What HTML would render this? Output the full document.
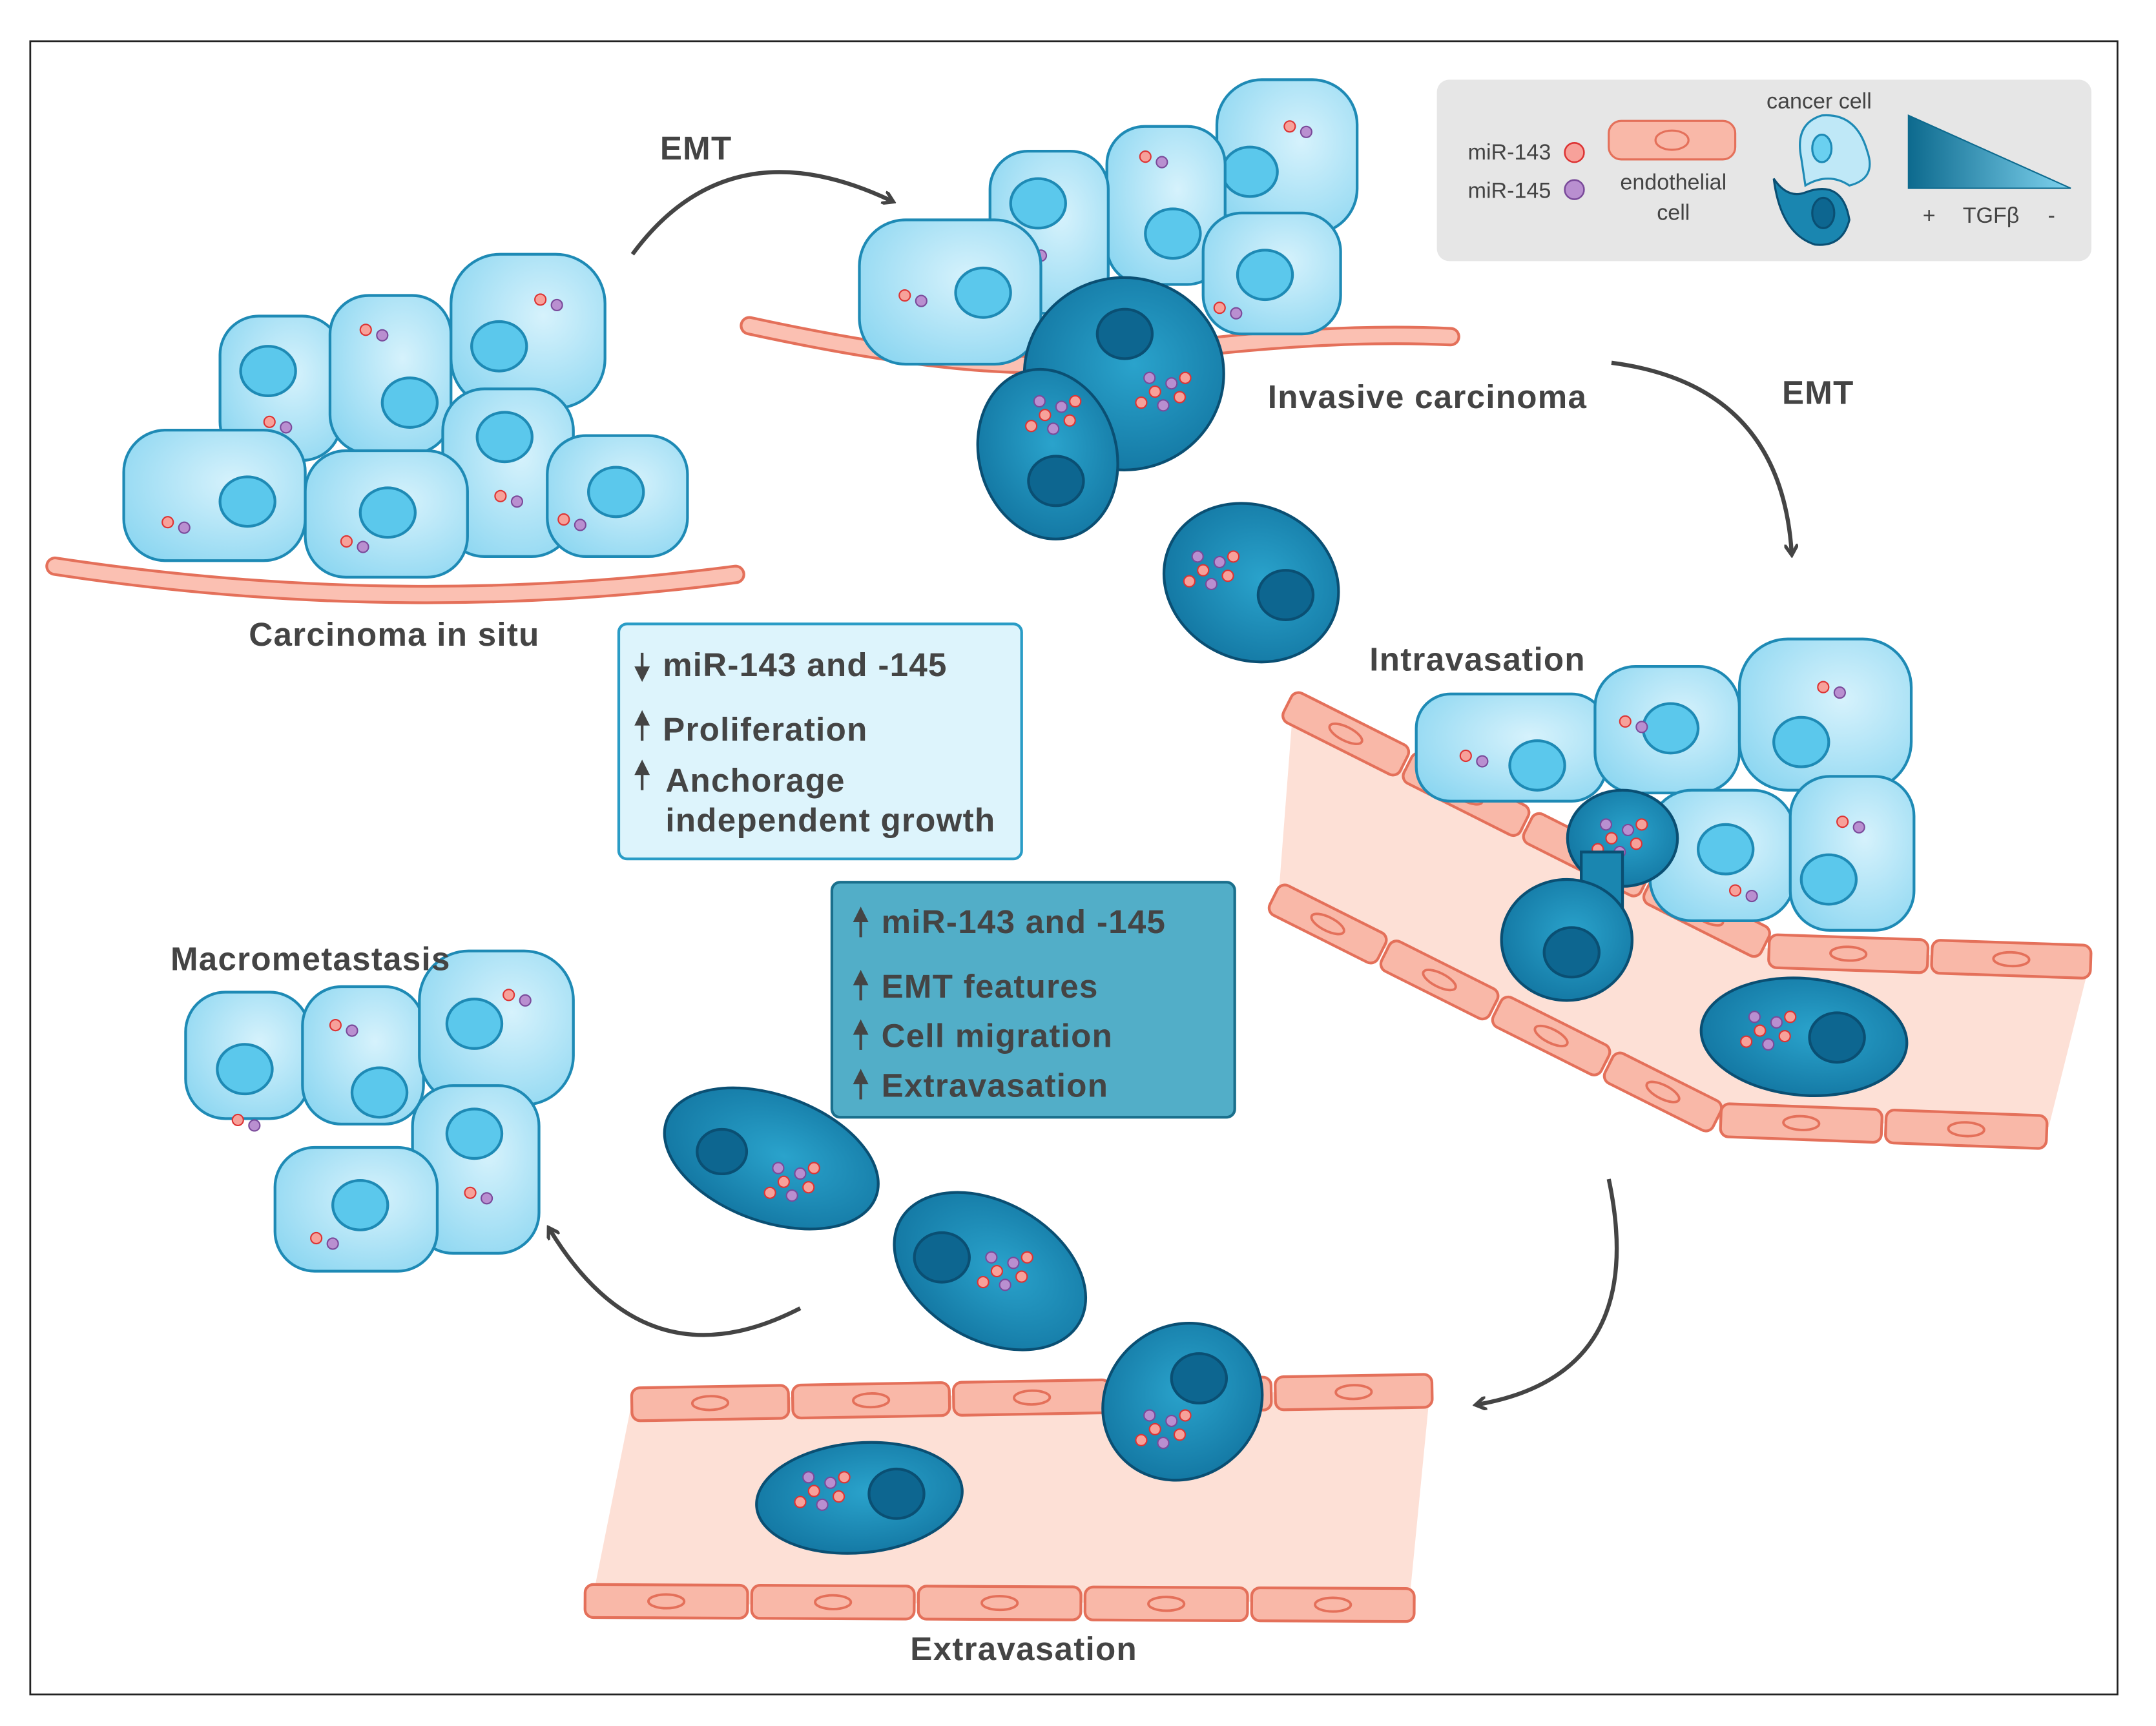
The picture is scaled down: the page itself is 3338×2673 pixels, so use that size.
<!DOCTYPE html>
<html><head><meta charset="utf-8"><style>
html,body{margin:0;padding:0;background:#fff}
svg{display:block}
text{font-family:"Liberation Sans",sans-serif}
</style></head><body>
<svg id="s" width="3338" height="2673" viewBox="0 0 1568 1256" preserveAspectRatio="none" xmlns="http://www.w3.org/2000/svg">
<defs>
<radialGradient id="lc" cx="0.6" cy="0.4" r="0.8"><stop offset="0" stop-color="#d6f2fc"/><stop offset="1" stop-color="#86d4f0"/></radialGradient>
<radialGradient id="dc" cx="0.55" cy="0.45" r="0.7"><stop offset="0" stop-color="#2aa3cc"/><stop offset="1" stop-color="#0f6f9b"/></radialGradient>
<linearGradient id="tg" x1="0" x2="1"><stop offset="0" stop-color="#0d6a8e"/><stop offset="1" stop-color="#7fd3ef"/></linearGradient>
<marker id="ah" markerWidth="10" markerHeight="10" refX="6" refY="5" orient="auto" markerUnits="userSpaceOnUse"><path d="M0,0 L8,5 L0,10" fill="none" stroke="#444" stroke-width="2.5"/></marker>
</defs>
<rect x="0" y="0" width="1568" height="1256" fill="#fff"/>
<rect x="22" y="30" width="1518" height="1203" fill="none" stroke="#222" stroke-width="1.3"/>
<polygon points="940,520 1285,690 1520,700 1490,820 1250,815 930,650" fill="#fde0d6"/>
<polygon points="460,1018 1040,1012 1025,1165 430,1168" fill="#fde0d6"/>
<path d="M40,412 Q290,450 535,418" stroke="#e4705a" stroke-width="14" fill="none" stroke-linecap="round"/>
<path d="M40,412 Q290,450 535,418" stroke="#fbc0b2" stroke-width="10" fill="none" stroke-linecap="round"/>
<path d="M545,237 Q720,275 800,262 Q950,240 1055,245" stroke="#e4705a" stroke-width="14" fill="none" stroke-linecap="round"/>
<path d="M545,237 Q720,275 800,262 Q950,240 1055,245" stroke="#fbc0b2" stroke-width="10" fill="none" stroke-linecap="round"/>
<g id="g"></g>
<rect x="1045" y="58" width="476" height="132" rx="9" fill="#e6e6e6"/>
<text x="1128" y="116" font-size="16" fill="#444" text-anchor="end">miR-143</text>
<text x="1128" y="144" font-size="16" fill="#444" text-anchor="end">miR-145</text>
<circle cx="1145" cy="111" r="7" fill="#f7a19a" stroke="#d33" stroke-width="1.2"/>
<circle cx="1145" cy="138" r="7" fill="#b98fd0" stroke="#7a4a9a" stroke-width="1.2"/>
<rect x="1170" y="88" width="92" height="28" rx="9" fill="#f9b8a8" stroke="#e4705a" stroke-width="1.5"/>
<ellipse cx="1216" cy="102" rx="12" ry="7" fill="none" stroke="#e4705a" stroke-width="1.5"/>
<text x="1217" y="138" font-size="16" fill="#444" text-anchor="middle">endothelial</text>
<text x="1217" y="160" font-size="16" fill="#444" text-anchor="middle">cell</text>
<text x="1323" y="79" font-size="16" fill="#444" text-anchor="middle">cancer cell</text>
<path d="M1325,84 Q1305,90 1310,115 L1313,135 Q1330,125 1345,135 Q1365,130 1358,110 Q1350,82 1325,84Z" fill="#bfe8f7" stroke="#1e8ab5" stroke-width="1.5"/>
<ellipse cx="1325" cy="108" rx="7" ry="10" fill="#6ad0f0" stroke="#1e8ab5" stroke-width="1.5"/>
<path d="M1290,130 Q1300,145 1313,140 Q1340,130 1345,160 Q1340,180 1320,178 Q1295,170 1290,130Z" fill="#1a86b0" stroke="#0a4f73" stroke-width="1.5"/>
<ellipse cx="1326" cy="155" rx="8" ry="11" fill="#0d6690" stroke="#0a4f73" stroke-width="1.5"/>
<polygon points="1388,84 1388,137 1506,137" fill="url(#tg)" stroke="#0d6a8e" stroke-width="1"/>
<text x="1403" y="162" font-size="16" fill="#444" text-anchor="middle">+</text>
<text x="1448" y="162" font-size="16" fill="#444" text-anchor="middle">TGFβ</text>
<text x="1492" y="162" font-size="16" fill="#444" text-anchor="middle">-</text>
<g font-weight="bold" font-size="24" fill="#444" letter-spacing="0.6">
<text x="480" y="116">EMT</text>
<text x="1296" y="294">EMT</text>
<text x="181" y="470">Carcinoma in situ</text>
<text x="922" y="297">Invasive carcinoma</text>
<text x="996" y="488">Intravasation</text>
<text x="124" y="706">Macrometastasis</text>
<text x="662" y="1208">Extravasation</text>
</g>
<g fill="none" stroke="#444" stroke-width="3" marker-end="url(#ah)">
<path d="M460,185 Q530,90 648,146"/>
<path d="M1172,264 Q1295,280 1303,402"/>
<path d="M1170,858 Q1200,1000 1075,1022"/>
<path d="M582,952 Q470,1010 400,895"/>
</g>
<rect x="450" y="454" width="293" height="171" rx="6" fill="#ddf4fc" stroke="#2a9cc6" stroke-width="2"/>
<rect x="605" y="642" width="293" height="171" rx="6" fill="#52aec8" stroke="#1a6f8c" stroke-width="2"/>
<g font-weight="bold" font-size="24" fill="#444" letter-spacing="0.6">
<text x="482" y="492">miR-143 and -145</text>
<text x="482" y="539">Proliferation</text>
<text x="484" y="576">Anchorage</text>
<text x="484" y="605">independent growth</text>
<text x="641" y="679">miR-143 and -145</text>
<text x="641" y="726">EMT features</text>
<text x="641" y="762">Cell migration</text>
<text x="641" y="798">Extravasation</text>
</g>
<g stroke="#444" stroke-width="2" fill="#444">
<path d="M467,475 V492"/><path d="M463,486 L467,494 L471,486Z"/>
<path d="M467,539 V521"/><path d="M463,527 L467,519 L471,527Z"/>
<path d="M467,575 V557"/><path d="M463,563 L467,555 L471,563Z"/>
<path d="M626,682 V664"/><path d="M622,670 L626,662 L630,670Z"/>
<path d="M626,728 V710"/><path d="M622,716 L626,708 L630,716Z"/>
<path d="M626,764 V746"/><path d="M622,752 L626,744 L630,752Z"/>
<path d="M626,800 V782"/><path d="M622,788 L626,780 L630,788Z"/>
</g>
</svg>
<script>
var g=document.getElementById('g'),h='';
function endo(x1,y1,x2,y2,n){var dx=(x2-x1)/n,dy=(y2-y1)/n,a=Math.atan2(dy,dx)*180/Math.PI,L=Math.hypot(dx,dy)-3;
for(var i=0;i<n;i++){var cx=x1+dx*(i+.5),cy=y1+dy*(i+.5);
h+='<g transform="translate('+cx+','+cy+') rotate('+a+')"><rect x="'+(-L/2)+'" y="-12" width="'+L+'" height="24" rx="6" fill="#f9b8a8" stroke="#e4705a" stroke-width="2"/><ellipse rx="13" ry="5" fill="none" stroke="#e4705a" stroke-width="1.8"/></g>';}}
endo(935,512,1285,688,4);endo(1285,692,1522,700,2);
endo(925,652,1250,815,4);endo(1250,815,1490,824,2);
endo(458,1022,1043,1012,5);endo(424,1165,1030,1168,5);
function lc(x,y,w,h2,nx,ny,nr,dots){h+='<rect x="'+x+'" y="'+y+'" width="'+w+'" height="'+h2+'" rx="'+Math.min(w,h2)*0.32+'" fill="url(#lc)" stroke="#1e8ab5" stroke-width="2"/><ellipse cx="'+nx+'" cy="'+ny+'" rx="'+nr+'" ry="'+(nr*0.9)+'" fill="#5bc8ec" stroke="#1e8ab5" stroke-width="2"/>';if(dots)pair(dots[0],dots[1]);}
function pair(x,y){h+='<circle cx="'+x+'" cy="'+y+'" r="4" fill="#f7a19a" stroke="#d33" stroke-width="1"/><circle cx="'+(x+12)+'" cy="'+(y+4)+'" r="4" fill="#b98fd0" stroke="#7a4a9a" stroke-width="1"/>';}
function dk(x,y,w,h2,nx,ny,nr,rot,dx,dy){h+='<g transform="rotate('+(rot||0)+','+(x+w/2)+','+(y+h2/2)+')"><ellipse cx="'+(x+w/2)+'" cy="'+(y+h2/2)+'" rx="'+w/2+'" ry="'+h2/2+'" fill="url(#dc)" stroke="#0a4f73" stroke-width="2"/></g>';if(nr)h+='<ellipse cx="'+nx+'" cy="'+ny+'" rx="'+nr+'" ry="'+(nr*0.9)+'" fill="#0d6690" stroke="#0a4f73" stroke-width="2"/>';if(dx){var p=[[0,0,1],[12,-6,0],[18,4,1],[6,10,0],[-10,8,1],[-4,-10,0],[22,-10,1]];p.forEach(function(q){h+='<circle cx="'+(dx+q[0])+'" cy="'+(dy+q[1])+'" r="4" fill="'+(q[2]?'#f7a19a':'#b98fd0')+'" stroke="'+(q[2]?'#d33':'#7a4a9a')+'" stroke-width="1"/>';});}}
lc(160,230,88,105,195,270,20,[196,307]);
lc(240,215,88,115,298,293,20,[266,240]);
lc(328,185,112,112,363,252,20,[393,218]);
lc(322,283,95,122,367,318,20,[364,361]);
lc(90,313,132,95,180,365,20,[122,380]);
lc(222,328,118,92,282,373,20,[252,394]);
lc(398,317,102,88,448,358,20,[410,378]);
lc(885,58,102,112,909,125,20,[938,92]);
lc(805,92,86,115,853,170,20,[833,114]);
lc(720,110,86,118,755,148,20,[745,182]);
lc(625,160,132,105,715,213,20,[658,215]);
lc(875,155,100,88,920,200,20,[887,224]);
dk(745,202,145,140,818,243,20,0,840,285);
dk(712,268,100,125,768,350,20,-15,760,302);
dk(845,368,130,112,935,433,20,25,875,415);
lc(1030,505,138,78,1118,557,20,[1066,550]);
lc(1160,485,105,92,1215,530,20,[1182,525]);
lc(1265,465,125,110,1310,540,20,[1326,500]);
lc(1200,575,105,95,1255,618,20,[1262,648]);
lc(1302,565,90,112,1330,640,20,[1340,598]);
dk(1140,575,80,70,1178,605,0,0,1172,610);
h+='<rect x="1150" y="620" width="30" height="50" fill="#1a86b0" stroke="#0a4f73" stroke-width="2"/>';
dk(1092,640,95,88,1143,693,20,0);
dk(1237,712,150,85,1336,755,20,5,1280,750);
dk(550,1050,150,80,652,1087,20,-5,592,1085);
dk(800,965,120,110,872,1003,20,-40,840,1040);
dk(480,797,162,92,525,838,18,20,570,860);
dk(645,875,150,100,685,915,20,30,725,925);
lc(135,722,90,92,178,778,20,[173,815]);
lc(220,718,88,100,276,795,20,[244,746]);
lc(305,692,112,112,345,745,20,[370,724]);
lc(300,790,92,122,345,825,20,[342,868]);
lc(200,835,118,90,262,877,20,[230,901]);
g.innerHTML=h;
</script>
</body></html>
